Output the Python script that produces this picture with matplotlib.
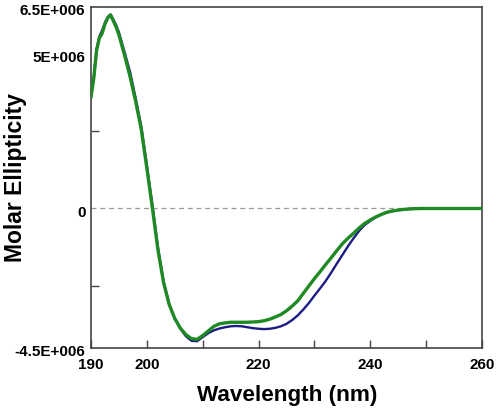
import matplotlib
matplotlib.use("Agg")
import matplotlib.pyplot as plt
import matplotlib.transforms as mtransforms
import numpy as np

plt.rcParams['font.family'] = ['Liberation Sans', 'DejaVu Sans']

wavelength = [190, 190.5, 191, 191.5, 192, 192.5, 193, 193.5, 194, 194.5, 195,
              196, 197, 198, 199, 200, 201, 202, 203, 204, 205, 206, 207, 208,
              209, 210, 211, 212, 213, 214, 215, 216, 217, 218, 219, 220, 221,
              222, 223, 224, 225, 226, 227, 228, 229, 230, 231, 232, 233, 234,
              235, 236, 237, 238, 239, 240, 241, 242, 243, 244, 245, 246, 247,
              248, 249, 250, 251, 252, 253, 254, 255, 256, 257, 258, 259, 260]

# Molar ellipticity in units of 1E6
green = [3.6, 4.2, 5.1, 5.5, 5.65, 5.95, 6.15, 6.24, 6.05, 5.85, 5.6,
         4.95, 4.25, 3.45, 2.55, 1.3, 0.0, -1.35, -2.4, -3.1, -3.55, -3.86, -4.07, -4.2,
         -4.22, -4.1, -3.95, -3.8, -3.72, -3.69, -3.67, -3.67, -3.67, -3.67, -3.66, -3.65, -3.62,
         -3.57, -3.5, -3.42, -3.3, -3.15, -2.98, -2.74, -2.5, -2.26, -2.04, -1.81, -1.59, -1.36,
         -1.14, -0.96, -0.8, -0.63, -0.48, -0.37, -0.27, -0.19, -0.12, -0.08, -0.05, -0.03, -0.015,
         -0.005, 0, 0, 0, 0, 0, 0, 0, 0, 0, 0, 0, 0]

blue = [3.6, 4.25, 5.15, 5.55, 5.75, 6.0, 6.18, 6.26, 6.1, 5.92, 5.68,
        5.05, 4.4, 3.55, 2.65, 1.4, 0.1, -1.28, -2.35, -3.08, -3.55, -3.88, -4.12, -4.27,
        -4.28, -4.15, -4.02, -3.93, -3.87, -3.83, -3.8, -3.79, -3.8, -3.83, -3.86, -3.88, -3.89,
        -3.88, -3.85, -3.8, -3.72, -3.6, -3.45, -3.26, -3.05, -2.81, -2.58, -2.34, -2.07, -1.78,
        -1.5, -1.22, -0.96, -0.72, -0.53, -0.4, -0.28, -0.19, -0.12, -0.08, -0.05, -0.03, -0.015,
        -0.005, 0, 0, 0, 0, 0, 0, 0, 0, 0, 0, 0, 0]

xtick_vals = [190, 200, 220, 240, 260]
xminor_vals = [210, 230, 250]
ytick_vals = [6.5e6, 5e6, 0, -4.5e6]
ytick_labels = ['6.5E+006', '5E+006', '0', '-4.5E+006']
yminor_vals = [2.5e6, -2.5e6]

fig = plt.figure(figsize=(4.98, 4.11), dpi=100)
ax = fig.add_axes([91/498, 1-348/411, (482-91)/498, (348-7)/411])

wl = np.array(wavelength)
ax.axhline(0, color='#999999', lw=0.9, ls=(0, (4, 3)), zorder=1)
ax.plot(wl, np.array(blue)*1e6, color='#1c1c84', lw=1.7, zorder=2)
ax.plot(wl, np.array(green)*1e6, color='#1f8a24', lw=2.4, zorder=3)

ax.set_xlim(190, 260)
ax.set_ylim(-4.5e6, 6.5e6)

ax.set_xticks(xtick_vals)
ax.set_xticklabels([str(v) for v in xtick_vals])
ax.set_xticks(xminor_vals, minor=True)
ax.set_yticks(ytick_vals)
ax.set_yticklabels(ytick_labels)
ax.set_yticks(yminor_vals, minor=True)

ax.tick_params(axis='x', which='both', direction='in', length=6, width=1, color='#444444',
               labelsize=11, pad=7)
ax.tick_params(axis='y', which='major', direction='in', length=0, labelsize=11, pad=4)
ax.tick_params(axis='y', which='minor', direction='in', length=6, width=1, color='#444444')
shift = mtransforms.ScaledTranslation(0, -3/100, fig.dpi_scale_trans)
for lab in ax.get_yticklabels():
    lab.set_fontweight('bold')
    lab.set_transform(lab.get_transform() + shift)
for lab in ax.get_xticklabels():
    lab.set_fontweight('bold')

for s in ax.spines.values():
    s.set_color('#444444')
    s.set_linewidth(1.2)

fig.text(287/498, 1-395/411, 'Wavelength (nm)', ha='center', va='center',
         fontsize=16.2, fontweight='bold')
fig.text(16/498, 1-178/411, 'Molar Ellipticity', ha='center', va='center',
         rotation=90, fontsize=16.5, fontweight='bold')

fig.savefig('out.png', dpi=100)
